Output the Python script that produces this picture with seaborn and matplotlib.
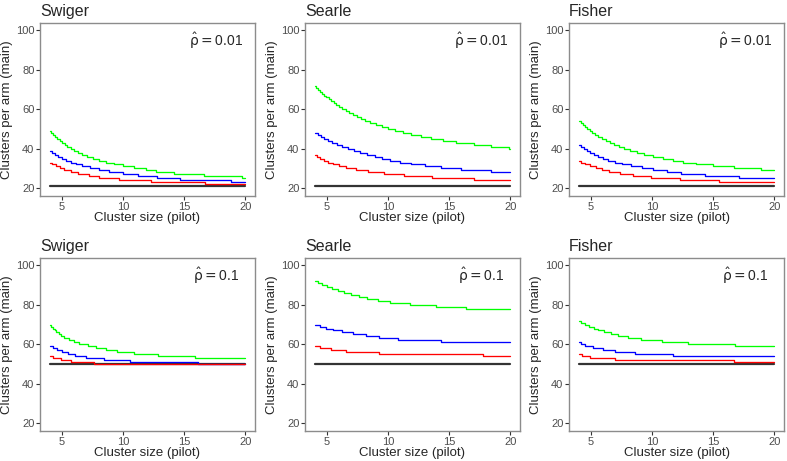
import matplotlib
matplotlib.use("Agg")
import matplotlib.pyplot as plt
import seaborn as sns
import pandas as pd

# method names (columns) and rho labels (rows)
methods = ["Swiger", "Searle", "Fisher"]
rho_labels = ["0.01", "0.1"]

# step change points (cluster size) and clusters per arm after each change
sw01_green_x = [4, 4.14, 4.29, 4.44, 4.62, 4.8, 5.0, 5.22, 5.45, 5.71, 6.0, 6.32, 6.67, 7.06, 7.5, 8.0, 8.57, 9.23, 10.0, 10.9, 11.9, 12.7, 14.2, 16.6, 19.7, 20]
sw01_green_y = [49, 48, 47, 46, 45, 44, 43, 42, 41, 40, 39, 38, 37, 36, 35, 34, 33, 32, 31, 30, 29, 28, 27, 26, 25, 25]
sw01_blue_x = [4, 4.21, 4.44, 4.71, 5.0, 5.33, 5.71, 6.15, 6.67, 7.27, 8.0, 8.89, 10.0, 11.2, 12.8, 14.7, 18.8, 20]
sw01_blue_y = [39, 38, 37, 36, 35, 34, 33, 32, 31, 30, 29, 28, 27, 26, 25, 24, 23, 23]
sw01_red_x = [4, 4.2, 4.5, 4.85, 5.2, 5.7, 6.3, 7.2, 8.0, 9.7, 12.3, 16.7, 20]
sw01_red_y = [33, 32, 31, 30, 29, 28, 27, 26, 25, 24, 23, 22, 22]

se01_green_x = [4, 4.14, 4.29, 4.44, 4.6, 4.77, 4.95, 5.14, 5.33, 5.54, 5.76, 6.0, 6.25, 6.52, 6.8, 7.1, 7.43, 7.78, 8.15, 8.56, 9.0, 9.48, 10.0, 10.57, 11.2, 11.89, 12.67, 13.53, 14.5, 15.6, 17.0, 18.4, 19.9, 20]
se01_green_y = [72, 71, 70, 69, 68, 67, 66, 65, 64, 63, 62, 61, 60, 59, 58, 57, 56, 55, 54, 53, 52, 51, 50, 49, 48, 47, 46, 45, 44, 43, 42, 41, 40, 40]
se01_blue_x = [4, 4.25, 4.5, 4.75, 5.05, 5.4, 5.8, 6.25, 6.7, 7.2, 7.7, 8.3, 8.9, 9.5, 10.2, 11.0, 11.9, 13.0, 14.3, 16.0, 18.4, 20]
se01_blue_y = [48, 47, 46, 45, 44, 43, 42, 41, 40, 39, 38, 37, 36, 35, 34, 33, 32, 31, 30, 29, 28, 28]
se01_red_x = [4, 4.15, 4.4, 4.75, 5.1, 5.5, 6.0, 6.6, 7.4, 8.4, 9.7, 11.3, 13.6, 17.0, 20]
se01_red_y = [37, 36, 35, 34, 33, 32, 31, 30, 29, 28, 27, 26, 25, 24, 24]

fi01_green_x = [4, 4.16, 4.32, 4.5, 4.69, 4.9, 5.12, 5.35, 5.61, 5.89, 6.19, 6.52, 6.88, 7.28, 7.72, 8.21, 8.76, 9.37, 10.07, 10.88, 11.7, 12.5, 13.6, 15.0, 16.7, 18.9, 20]
fi01_green_y = [54, 53, 52, 51, 50, 49, 48, 47, 46, 45, 44, 43, 42, 41, 40, 39, 38, 37, 36, 35, 34, 33, 32, 31, 30, 29, 29]
fi01_blue_x = [4, 4.2, 4.42, 4.66, 4.93, 5.23, 5.57, 5.96, 6.42, 6.94, 7.56, 8.29, 9.19, 10.1, 11.2, 12.4, 14.3, 17.1, 20]
fi01_blue_y = [42, 41, 40, 39, 38, 37, 36, 35, 34, 33, 32, 31, 30, 29, 28, 27, 26, 25, 25]
fi01_red_x = [4, 4.2, 4.55, 4.95, 5.4, 5.9, 6.45, 7.35, 8.45, 9.95, 12.25, 15.5, 20]
fi01_red_y = [34, 33, 32, 31, 30, 29, 28, 27, 26, 25, 24, 23, 23]

sw1_green_x = [4, 4.12, 4.25, 4.4, 4.55, 4.75, 4.95, 5.2, 5.6, 6.0, 6.4, 7.1, 7.8, 8.6, 9.5, 10.9, 12.9, 15.9, 20]
sw1_green_y = [70, 69, 68, 67, 66, 65, 64, 63, 62, 61, 60, 59, 58, 57, 56, 55, 54, 53, 53]
sw1_blue_x = [4, 4.25, 4.6, 5.0, 5.5, 6.1, 7.0, 8.4, 10.6, 16.1, 20]
sw1_blue_y = [59, 58, 57, 56, 55, 54, 53, 52, 51, 50, 50]
sw1_red_x = [4, 4.3, 4.9, 5.7, 7.6, 20]
sw1_red_y = [54, 53, 52, 51, 50, 50]

se1_green_x = [4, 4.25, 4.6, 5.0, 5.4, 5.9, 6.4, 7.0, 7.6, 8.3, 9.2, 10.2, 11.8, 13.9, 16.4, 20]
se1_green_y = [92, 91, 90, 89, 88, 87, 86, 85, 84, 83, 82, 81, 80, 79, 78, 78]
se1_blue_x = [4, 4.4, 4.9, 5.5, 6.2, 7.1, 8.2, 9.3, 10.8, 14.3, 20]
se1_blue_y = [70, 69, 68, 67, 66, 65, 64, 63, 62, 61, 61]
se1_red_x = [4, 4.4, 5.3, 6.6, 9.3, 17.8, 20]
se1_red_y = [59, 58, 57, 56, 55, 54, 54]

fi1_green_x = [4, 4.2, 4.5, 4.85, 5.25, 5.6, 6.1, 6.6, 7.2, 8.0, 9.1, 10.8, 12.95, 16.8, 20]
fi1_green_y = [72, 71, 70, 69, 68, 67, 66, 65, 64, 63, 62, 61, 60, 59, 59]
fi1_blue_x = [4, 4.15, 4.5, 5.2, 6.0, 7.0, 8.6, 11.7, 20]
fi1_blue_y = [61, 60, 59, 58, 57, 56, 55, 54, 54]
fi1_red_x = [4, 4.25, 4.9, 7.0, 16.7, 20]
fi1_red_y = [55, 54, 53, 52, 51, 51]

# reference (black) line
black_x = [4, 20]
black_top_y = [21, 21]
black_bottom_y = [50, 50]

panels = [
    [(sw01_green_x, sw01_green_y), (sw01_blue_x, sw01_blue_y), (sw01_red_x, sw01_red_y), black_top_y],
    [(se01_green_x, se01_green_y), (se01_blue_x, se01_blue_y), (se01_red_x, se01_red_y), black_top_y],
    [(fi01_green_x, fi01_green_y), (fi01_blue_x, fi01_blue_y), (fi01_red_x, fi01_red_y), black_top_y],
    [(sw1_green_x, sw1_green_y), (sw1_blue_x, sw1_blue_y), (sw1_red_x, sw1_red_y), black_bottom_y],
    [(se1_green_x, se1_green_y), (se1_blue_x, se1_blue_y), (se1_red_x, se1_red_y), black_bottom_y],
    [(fi1_green_x, fi1_green_y), (fi1_blue_x, fi1_blue_y), (fi1_red_x, fi1_red_y), black_bottom_y],
]
colors = ["#00FF00", "#0000FF", "#FF0000"]

sns.set_style("white")
plt.rcParams["font.family"] = ["Liberation Sans", "DejaVu Sans"]
plt.rcParams["mathtext.fontset"] = "dejavusans"

fig = plt.figure(figsize=(7.87, 4.61), dpi=100)
lefts = [0.0508, 0.3875, 0.7230]
bottoms = [0.5748, 0.0651]
w, h = 0.2732, 0.3762

for i, panel in enumerate(panels):
    row, col = divmod(i, 3)
    ax = fig.add_axes([lefts[col], bottoms[row], w, h])
    sns.lineplot(x=black_x, y=panel[3], ax=ax, color="#333333", lw=1.6,
                 estimator=None, sort=False)
    for (xs, ys), c in zip(panel[:3], colors):
        df = pd.DataFrame({"x": xs, "y": ys})
        sns.lineplot(data=df, x="x", y="y", ax=ax, color=c, lw=0.95,
                     drawstyle="steps-post", estimator=None, sort=False)
    ax.set_xlim(3.2, 20.8)
    ax.set_ylim(16, 104)
    ax.set_xticks([5, 10, 15, 20])
    ax.set_yticks([20, 40, 60, 80, 100])
    ax.set_xlabel("Cluster size (pilot)", fontsize=9.5, labelpad=0)
    ax.set_ylabel("Clusters per arm (main)", fontsize=9.5, labelpad=2)
    ax.set_title(methods[col], loc="left", fontsize=11.5, pad=5)
    ax.text(17.6, 94.5, r"$\hat{\mathrm{\rho}} = $" + rho_labels[row], ha="center",
            va="center", fontsize=10)
    for s in ax.spines.values():
        s.set_color("#8C8C8C")
        s.set_linewidth(1.0)
    ax.tick_params(direction="out", length=3, width=0.8, color="#333333",
                   labelcolor="#4D4D4D", labelsize=8, pad=1,
                   bottom=True, left=True)

fig.savefig("out.png", dpi=100)
